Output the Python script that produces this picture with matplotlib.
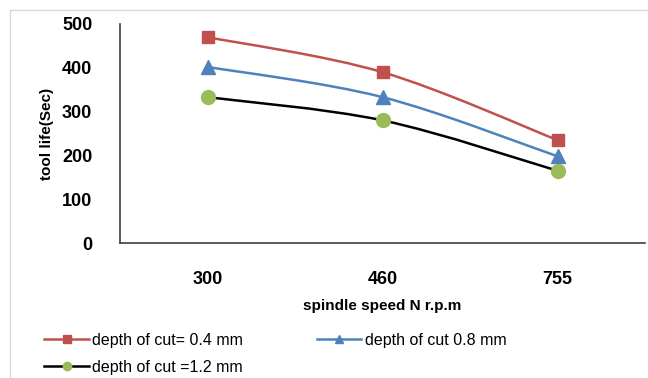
import matplotlib.pyplot as plt
from matplotlib.path import Path
from matplotlib.patches import PathPatch, Rectangle
from matplotlib.lines import Line2D

plt.rcParams['font.family'] = ['Liberation Sans', 'DejaVu Sans']

speeds = ['300', '460', '755']
life_04 = [470, 390, 235]
life_08 = [402, 333, 198]
life_12 = [333, 280, 165]

series = [
    ('depth of cut= 0.4 mm', life_04, '#c0504d', 's', 9),
    ('depth of cut 0.8 mm', life_08, '#4f81bd', '^', 10),
    ('depth of cut =1.2 mm', life_12, 'black', 'o', 10),
]
marker_face = {'o': '#9bbb59'}


def smooth_path(xs, ys, k=1/6):
    # Catmull-Rom style bezier through the points, like a spreadsheet "smoothed line"
    pts = list(zip(xs, ys))
    verts = [pts[0]]
    codes = [Path.MOVETO]
    for i in range(len(pts) - 1):
        p0 = pts[i - 1] if i > 0 else pts[i]
        p1, p2 = pts[i], pts[i + 1]
        p3 = pts[i + 2] if i + 2 < len(pts) else pts[i + 1]
        c1 = (p1[0] + (p2[0] - p0[0]) * k, p1[1] + (p2[1] - p0[1]) * k)
        c2 = (p2[0] - (p3[0] - p1[0]) * k, p2[1] - (p3[1] - p1[1]) * k)
        verts += [c1, c2, p2]
        codes += [Path.CURVE4] * 3
    return Path(verts, codes)


fig = plt.figure(figsize=(6.48, 3.78), dpi=100)
fig.patches.append(Rectangle((10 / 648, -0.1), 2, 1.1 - 10 / 378, transform=fig.transFigure,
                             fill=False, edgecolor='#d9d9d9', linewidth=1))
ax = fig.add_axes([120 / 648, 1 - 243 / 378, 525 / 648, 219 / 378])

x = [0, 1, 2]
handles = []
for label, vals, color, mk, ms in series:
    ax.add_patch(PathPatch(smooth_path(x, vals), fill=False, edgecolor=color, linewidth=1.8, zorder=2))
    face = marker_face.get(mk, color)
    ax.plot(x, vals, linestyle='none', marker=mk, markersize=ms, markerfacecolor=face,
            markeredgecolor=face, zorder=3)
    handles.append(Line2D([], [], color=color, linewidth=1.8, marker=mk, markersize=6,
                          markerfacecolor=face, markeredgecolor=face, label=label))

ax.set_xlim(-0.5, 2.5)
ax.set_ylim(0, 500)
ax.set_yticks(range(0, 501, 100))
ax.set_xticks(x)
ax.set_xticklabels(speeds)
ax.tick_params(length=0, labelsize=13, pad=20)
ax.tick_params(axis='x', pad=20)
for t in ax.get_xticklabels() + ax.get_yticklabels():
    t.set_fontweight('bold')

for s in ['top', 'right']:
    ax.spines[s].set_visible(False)
for s in ['left', 'bottom']:
    ax.spines[s].set_color('#404040')
    ax.spines[s].set_linewidth(1.2)

ax.set_ylabel('tool life(Sec)', fontsize=11, fontweight='bold', labelpad=6)
ax.set_xlabel('spindle speed N r.p.m', fontsize=11, fontweight='bold', labelpad=8)

# row-major order: 0.4 mm and 0.8 mm on the first row
fig.legend(handles=[handles[0], handles[2], handles[1]], loc='lower left',
           bbox_to_anchor=(38 / 648, -0.008), ncol=2, frameon=False, fontsize=11.5,
           handlelength=2.8, handletextpad=0.2, columnspacing=4.6, labelspacing=0.75,
           borderaxespad=0.0)

fig.savefig('out.png', dpi=100)
